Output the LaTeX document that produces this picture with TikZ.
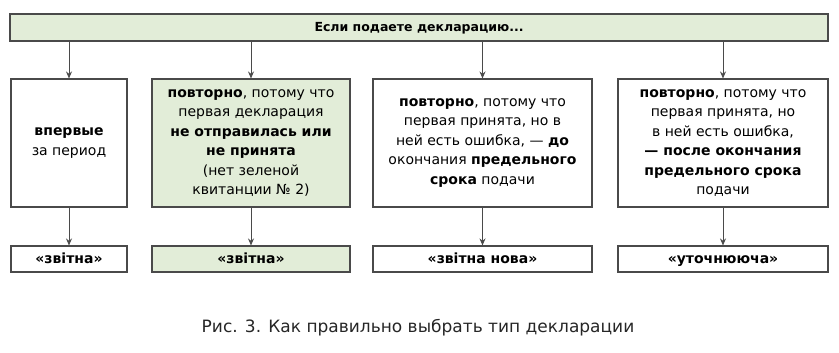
\documentclass[tikz,border=0pt]{standalone}
\usepackage{fontspec}
\setmainfont{DejaVu Sans}
\usetikzlibrary{arrows.meta}
\definecolor{lgreen}{HTML}{E2EDD8}
\definecolor{bord}{HTML}{4A4A4A}
\tikzset{
  box/.style={draw=bord, line width=1.1pt, minimum height=#1, inner sep=0pt, align=center, font=\fontsize{14}{19.5}\selectfont},
  box/.default=26pt,
  lab/.style={font=\fontsize{14}{16}\selectfont\bfseries, text height=10pt, text depth=2pt},
  conn/.style={draw=bord, line width=0.9pt, -{Stealth[length=7pt,width=6pt]}}
}
\begin{document}
\begin{tikzpicture}[x=1pt,y=-1pt]
\useasboundingbox (0,0) rectangle (839,353);
\node[box=27pt, fill=lgreen, minimum width=818pt, lab, font=\fontsize{12.5}{16}\selectfont\bfseries] (top) at (419,27.5) {Если подаете декларацию...};
\node[box=128pt, minimum width=116pt] (b1) at (69,143) {\textbf{впервые}\\за период};
\node[box=128pt, minimum width=198pt, fill=lgreen] (b2) at (251,143) {\textbf{повторно}, потому что\\первая декларация\\\textbf{не отправилась или}\\\textbf{не принята}\\(нет зеленой\\квитанции № 2)};
\node[box=128pt, minimum width=219pt] (b3) at (482.5,143) {\textbf{повторно}, потому что\\первая принята, но в\\ней есть ошибка, — \textbf{до}\\окончания \textbf{предельного}\\\textbf{срока} подачи};
\node[box=128pt, minimum width=210pt] (b4) at (723,143) {\textbf{повторно}, потому что\\первая принята, но\\в ней есть ошибка,\\\textbf{— после окончания}\\\textbf{предельного срока}\\подачи};
\node[box=26pt, minimum width=116pt, lab] (c1) at (69,259) {«звітна»};
\node[box=26pt, minimum width=198pt, fill=lgreen, lab] (c2) at (251,259) {«звітна»};
\node[box=26pt, minimum width=219pt, lab] (c3) at (482.5,259) {«звітна нова»};
\node[box=26pt, minimum width=210pt, lab] (c4) at (723,259) {«уточнююча»};
\foreach \i in {1,2,3,4}{
  \draw[conn] (top.south -| b\i.north) -- (b\i.north);
  \draw[conn] (b\i.south) -- (c\i.north);
}
\node[font=\fontsize{17}{20}\selectfont, text=black!85] (cap) at (418,328) {Рис. 3. Как правильно выбрать тип декларации};
\end{tikzpicture}
\end{document}
